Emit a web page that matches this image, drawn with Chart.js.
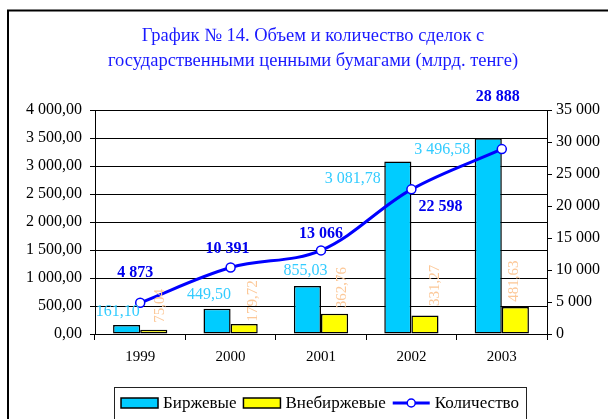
<!DOCTYPE html>
<html>
<head>
<meta charset="utf-8">
<script src="https://cdn.jsdelivr.net/npm/chart.js@4"></script>
<style>
  html, body { margin: 0; padding: 0; background: #fff; }
  #wrap { width: 608px; height: 419px; }
</style>
</head>
<body>
<div id="wrap"><canvas id="dealsChart" width="608" height="419"></canvas></div>
<script>
// data
let years = ["1999", "2000", "2001", "2002", "2003"];
let exchange = [161.1, 449.5, 855.03, 3081.78, 3496.58];
let otc = [75.04, 179.72, 362.76, 331.27, 481.63];
let deals = [4873, 10391, 13066, 22598, 28888];
let titleLines = [
  "График № 14. Объем и количество сделок с",
  "государственными ценными бумагами (млрд. тенге)",
];

const serif = "'Liberation Serif', 'Times New Roman', serif";

// "4 000,00" style numbers
function fmt(v, dec) {
  let parts = v.toFixed(dec).split(".");
  let i = parts[0].replace(/\B(?=(\d{3})+(?!\d))/g, " ");
  return parts[1] ? i + "," + parts[1] : i;
}

// value labels, placed by hand like in the original
let valueLabels = {
  id: "valueLabels",
  afterDatasetsDraw(chart) {
    let ctx = chart.ctx;
    ctx.save();
    ctx.textAlign = "center";
    ctx.textBaseline = "middle";

    // exchange bars
    let shiftA = [[-9, -13], [-8, -14], [-2, -15], [-45, 17], [-46, 12]];
    ctx.font = "16px " + serif;
    ctx.fillStyle = "#33ccff";
    chart.getDatasetMeta(0).data.forEach((bar, i) => {
      ctx.fillText(fmt(exchange[i], 2), bar.x + shiftA[i][0], bar.y + shiftA[i][1]);
    });

    // otc bars, rotated
    let shiftB = [[6, -24], [9, -23], [8, -26], [10, -30], [-1, -26]];
    ctx.font = "15px " + serif;
    ctx.fillStyle = "#fcc898";
    chart.getDatasetMeta(1).data.forEach((bar, i) => {
      ctx.save();
      ctx.translate(bar.x + shiftB[i][0], bar.y + shiftB[i][1]);
      ctx.rotate(-Math.PI / 2);
      ctx.fillText(fmt(otc[i], 2), 0, 0);
      ctx.restore();
    });

    // deal counts
    let shiftC = [[-5, -30], [-3, -19], [0, -17], [29, 17], [-4, -52]];
    ctx.font = "bold 16px " + serif;
    ctx.fillStyle = "#0000ee";
    chart.getDatasetMeta(2).data.forEach((pt, i) => {
      ctx.fillText(fmt(deals[i], 0), pt.x + shiftC[i][0], pt.y + shiftC[i][1]);
    });
    ctx.restore();
  },
};

// frame, title and legend box drawn like the excel one
let frameAndLegend = {
  id: "frameAndLegend",
  afterDraw(chart) {
    let ctx = chart.ctx;
    ctx.save();
    ctx.strokeStyle = "#000";
    ctx.lineWidth = 2;
    ctx.beginPath();
    ctx.moveTo(8, 419);
    ctx.lineTo(8, 10.5);
    ctx.lineTo(608, 10.5);
    ctx.stroke();

    // title (centred on the framed area, not the canvas)
    ctx.font = "18.5px " + serif;
    ctx.fillStyle = "#1a1aff";
    ctx.textAlign = "center";
    ctx.textBaseline = "middle";
    titleLines.forEach((line, i) => {
      ctx.fillText(line, 313, 36 + i * 25);
    });

    ctx.font = "17px " + serif;
    let items = chart.data.datasets.map((ds) => ({
      ds: ds,
      w: 37 + 5 + ctx.measureText(ds.label).width,
    }));
    let gap = 7;
    let total = items.reduce((s, it) => s + it.w, 0) + gap * (items.length - 1);
    let x = 320 - total / 2;
    let cy = 403;

    ctx.lineWidth = 1;
    ctx.strokeStyle = "#222";
    ctx.strokeRect(Math.round(x - 7) + 0.5, 387.5, Math.round(total + 14), 40);

    ctx.textAlign = "left";
    items.forEach((it) => {
      let ds = it.ds;
      if (ds.type === "line") {
        ctx.strokeStyle = ds.borderColor;
        ctx.lineWidth = 3;
        ctx.beginPath();
        ctx.moveTo(x, cy);
        ctx.lineTo(x + 37, cy);
        ctx.stroke();
        ctx.beginPath();
        ctx.arc(x + 18.5, cy, 4, 0, Math.PI * 2);
        ctx.fillStyle = "#fff";
        ctx.fill();
        ctx.lineWidth = 1.5;
        ctx.stroke();
      } else {
        ctx.fillStyle = ds.backgroundColor;
        ctx.fillRect(x, cy - 5, 37, 10);
        ctx.strokeStyle = "#000";
        ctx.lineWidth = 1.5;
        ctx.strokeRect(x, cy - 5, 37, 10);
      }
      ctx.fillStyle = "#000";
      ctx.fillText(ds.label, x + 42, cy + 1);
      x += it.w + gap;
    });
    ctx.restore();
  },
};

let dealsCtx = document.getElementById("dealsChart").getContext("2d");
let dealsChart = new Chart(dealsCtx, {
  type: "bar",
  data: {
    labels: years,
    datasets: [
      {
        label: "Биржевые",
        data: exchange,
        backgroundColor: "#00ccff",
        borderColor: "#000",
        borderWidth: 1.5,
        borderSkipped: false,
        yAxisID: "y",
        order: 1,
      },
      {
        label: "Внебиржевые",
        data: otc,
        backgroundColor: "#ffff00",
        borderColor: "#000",
        borderWidth: 1.5,
        borderSkipped: false,
        yAxisID: "y",
        order: 2,
      },
      {
        type: "line",
        label: "Количество",
        data: deals,
        borderColor: "#0000ff",
        borderWidth: 3,
        tension: 0.35,
        pointRadius: 4.5,
        pointBackgroundColor: "#fff",
        pointBorderColor: "#0000ff",
        pointBorderWidth: 1.5,
        yAxisID: "y1",
        order: 0,
      },
    ],
  },
  options: {
    responsive: false,
    animation: false,
    events: [],
    layout: { padding: { left: 0, right: 0, top: 110, bottom: 51 } },
    datasets: {
      bar: { categoryPercentage: 0.6, barPercentage: 1 },
    },
    scales: {
      x: {
        offset: true,
        grid: { display: true, drawOnChartArea: false, offset: true, color: "#000", tickLength: 6 },
        border: { color: "#000", width: 1 },
        ticks: { color: "#000", font: { family: serif, size: 15 }, padding: 8 },
        afterFit(scale) { scale.height = 34; },
      },
      y: {
        position: "left",
        min: 0,
        max: 4000,
        ticks: {
          stepSize: 500,
          color: "#000",
          font: { family: serif, size: 16 },
          padding: 8,
          callback: (v) => fmt(v, 2),
        },
        grid: { color: "#000", lineWidth: 1, tickLength: 5 },
        border: { color: "#000", width: 1 },
        afterFit(scale) { scale.width = 95; },
      },
      y1: {
        position: "right",
        min: 0,
        max: 35000,
        ticks: {
          stepSize: 5000,
          color: "#000",
          font: { family: serif, size: 16 },
          padding: 4,
          callback: (v) => fmt(v, 0),
        },
        grid: { drawOnChartArea: false, color: "#000", tickLength: 5 },
        border: { color: "#000", width: 1 },
        afterFit(scale) { scale.width = 61; },
      },
    },
    plugins: {
      legend: { display: false },
      tooltip: { enabled: false },
      title: { display: false },
    },
  },
  plugins: [valueLabels, frameAndLegend],
});
</script>
</body>
</html>
